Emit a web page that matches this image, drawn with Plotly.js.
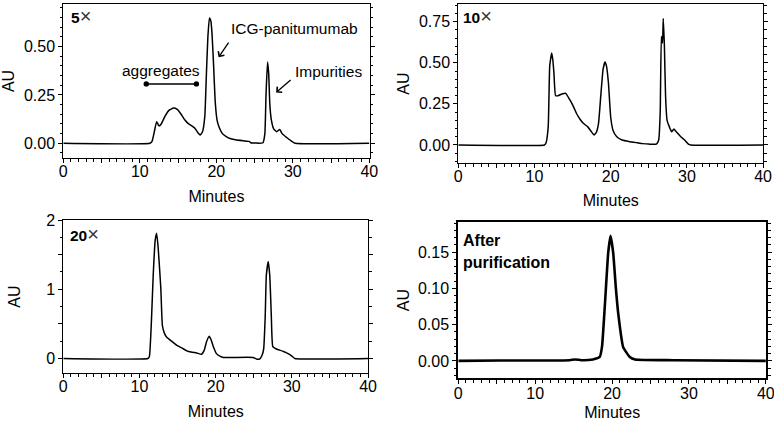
<!DOCTYPE html>
<html>
<head>
<meta charset="utf-8">
<script src="https://cdn.plot.ly/plotly-3.0.1.min.js"></script>
<style>html,body{margin:0;padding:0;background:#fff;}#chart{width:774px;height:421px;}</style>
</head>
<body>
<div id="chart"></div>
<script>
// ---- Data (minutes vs AU) ----
var x5 = [0, 11.3, 11.6, 11.9, 12.2, 12.5, 12.8, 13.3, 13.8, 14.4, 14.9, 15.4, 15.9, 16.3, 16.8, 17.2, 17.6, 17.9, 18.2, 18.5, 18.7, 18.9, 19.1, 19.3, 19.45, 19.65, 19.85, 20.1, 20.4, 20.8, 21.3, 21.7, 22.5, 23.5, 24.3, 24.5, 26.1, 26.35, 26.5, 26.7, 26.85, 27.0, 27.2, 27.5, 27.9, 28.3, 28.6, 29.2, 29.8, 30.3, 40];
var y5 = [0, 0, 0.01, 0.06, 0.112, 0.09, 0.10, 0.14, 0.17, 0.182, 0.175, 0.15, 0.12, 0.103, 0.09, 0.078, 0.055, 0.043, 0.06, 0.14, 0.35, 0.55, 0.647, 0.63, 0.56, 0.40, 0.22, 0.12, 0.08, 0.05, 0.035, 0.026, 0.018, 0.013, 0.01, 0.003, 0.003, 0.05, 0.25, 0.42, 0.36, 0.2, 0.12, 0.075, 0.06, 0.072, 0.05, 0.03, 0.012, 0, 0];

var x10 = [0, 11.3, 11.5, 11.8, 12.0, 12.25, 12.4, 12.55, 12.77, 13.1, 13.6, 14.1, 14.65, 15.1, 15.5, 16.0, 16.4, 17.0, 17.4, 17.8, 18.1, 18.4, 18.7, 19.0, 19.25, 19.45, 19.7, 20.0, 20.3, 20.8, 21.5, 22.5, 23.5, 24.2, 25.0, 26.0, 26.3, 26.5, 26.65, 26.8, 26.9, 27.05, 27.2, 27.4, 27.7, 28.0, 28.3, 28.7, 29.2, 29.7, 30.2, 30.5, 40];
var y10 = [0, 0, 0.01, 0.11, 0.48, 0.56, 0.52, 0.44, 0.30, 0.30, 0.31, 0.314, 0.274, 0.235, 0.193, 0.155, 0.132, 0.11, 0.085, 0.061, 0.075, 0.13, 0.30, 0.46, 0.505, 0.48, 0.38, 0.17, 0.09, 0.05, 0.03, 0.02, 0.013, 0.008, 0.005, 0.005, 0.03, 0.2, 0.66, 0.62, 0.77, 0.6, 0.3, 0.15, 0.11, 0.08, 0.097, 0.075, 0.05, 0.03, 0.005, 0, 0];

var x20 = [0, 11.1, 11.3, 11.55, 11.8, 12.05, 12.25, 12.45, 12.8, 13.0, 13.25, 13.55, 14.2, 14.9, 15.6, 16.2, 16.9, 17.5, 18.15, 18.5, 18.8, 19.15, 19.4, 19.7, 20.1, 20.6, 21.0, 22.3, 24.9, 25.4, 25.8, 26.1, 26.3, 26.5, 26.65, 26.9, 27.1, 27.3, 27.5, 27.9, 28.4, 28.9, 29.5, 30.0, 30.4, 40];
var y20 = [0, 0, 0.03, 0.5, 1.2, 1.7, 1.81, 1.6, 1.01, 0.48, 0.37, 0.31, 0.25, 0.19, 0.15, 0.11, 0.09, 0.08, 0.06, 0.12, 0.24, 0.32, 0.27, 0.17, 0.07, 0.03, 0.015, 0.015, 0.015, -0.01, -0.005, 0.05, 0.14, 0.6, 1.2, 1.40, 1.2, 0.63, 0.17, 0.14, 0.12, 0.1, 0.07, 0.035, 0, 0];

var xPur = [0, 5.5, 10, 14.5, 15.2, 16, 17.5, 18.4, 18.7, 19.08, 19.5, 19.8, 20.15, 20.5, 20.8, 21.45, 22.3, 23, 28, 40];
var yPur = [0, 0.0005, 0.0005, 0.001, 0.002, 0.001, 0.002, 0.0055, 0.02, 0.079, 0.149, 0.1725, 0.149, 0.1, 0.066, 0.019, 0.0055, 0.002, 0.001, 0];

// ---- Tick labels (labels hidden at the unlabeled major ticks) ----
var xHiddenTicks = ['5', '15', '25', '35'];
var y20HiddenTicks = ['0.5', '1.5'];

var FONT = 'Liberation Sans, Arial, Helvetica, sans-serif';
var TIMES = '<span style="font-size:20px;font-weight:normal;color:#333">\u00d7</span>';

function aliasOf(list) { var o = {}; list.forEach(function (k) { o[k] = ''; }); return o; }

function trace(x, y, xa, ya, w) {
  return {x: x, y: y, xaxis: xa, yaxis: ya, type: 'scatter', mode: 'lines',
          line: {color: '#000', width: w, shape: 'spline', smoothing: 0.4},
          hoverinfo: 'skip', showlegend: false};
}

var data = [
  trace(x5, y5, 'x', 'y', 1.5),
  trace(x10, y10, 'x2', 'y2', 1.5),
  trace(x20, y20, 'x3', 'y3', 1.5),
  trace(xPur, yPur, 'x4', 'y4', 2.6)
];

function xAxis(dom, anchor, lw, standoff) {
  return {domain: dom, anchor: anchor, range: [0, 40.03], showgrid: false, zeroline: false,
    showline: true, linecolor: '#000', linewidth: lw, mirror: true,
    ticks: 'outside', ticklen: 4, tickwidth: 1, tickcolor: '#000',
    tickmode: 'linear', tick0: 0, dtick: 5, labelalias: aliasOf(xHiddenTicks),
    ticklabelstandoff: -5, ticklabeloverflow: 'allow',
    minor: {tickmode: 'linear', tick0: 0, dtick: 1, ticks: 'outside', ticklen: 2.5, tickcolor: '#000', tickwidth: 1},
    tickfont: {family: FONT, size: 16, color: '#000'},
    title: {text: 'Minutes', font: {family: FONT, size: 16, color: '#000'}, standoff: standoff}};
}
function yAxis(dom, anchor, range, dtick, fmt, alias, minorD, standoff, lw) {
  return {domain: dom, anchor: anchor, range: range, showgrid: false, zeroline: false,
    showline: true, linecolor: '#000', linewidth: lw, mirror: 'ticks',
    ticks: 'outside', ticklen: 4, tickwidth: 1, tickcolor: '#000',
    tickmode: 'linear', tick0: 0, dtick: dtick, tickformat: fmt, labelalias: alias,
    ticklabeloverflow: 'allow',
    minor: {tickmode: 'linear', tick0: 0, dtick: minorD, ticks: 'outside', ticklen: 2.5, tickcolor: '#000', tickwidth: 1},
    tickfont: {family: FONT, size: 16, color: '#000'},
    title: {text: 'AU', font: {family: FONT, size: 16, color: '#000'}, standoff: standoff}};
}

var layout = {
  width: 774, height: 421,
  margin: {l: 0, r: 0, t: 0, b: 0},
  paper_bgcolor: '#fff', plot_bgcolor: '#fff',
  showlegend: false,
  xaxis:  xAxis([0.0818, 0.4774], 'y', 1, 11),
  yaxis:  yAxis([0.6247, 0.9905], 'x', [-0.076, 0.72], 0.25, '.2f', {}, 0.05, 15, 1),
  xaxis2: xAxis([0.5921, 0.9862], 'y2', 1, 10),
  yaxis2: yAxis([0.6128, 0.9905], 'x2', [-0.11, 0.858], 0.25, '.2f', {}, 0.05, 5, 1),
  xaxis3: xAxis([0.0818, 0.4758], 'y3', 1, 11),
  yaxis3: yAxis([0.114, 0.4774], 'x3', [-0.21, 2.0], 0.5, '', aliasOf(y20HiddenTicks), 0.25, 21, 1),
  xaxis4: xAxis([0.5921, 0.9897], 'y4', 2, 9),
  yaxis4: yAxis([0.1014, 0.4734], 'x4', [-0.024, 0.192], 0.05, '.2f', {}, 0.01, 4, 2),
  annotations: [
    {xref: 'paper', yref: 'paper', x: 69/774, y: 1 - 16/421, xanchor: 'left', yanchor: 'middle',
     text: '<b>5</b>' + TIMES, showarrow: false, font: {family: FONT, size: 15.5, color: '#000'}},
    {xref: 'paper', yref: 'paper', x: 461/774, y: 1 - 16/421, xanchor: 'left', yanchor: 'middle',
     text: '<b>10</b>' + TIMES, showarrow: false, font: {family: FONT, size: 15.5, color: '#000'}},
    {xref: 'paper', yref: 'paper', x: 68/774, y: 1 - 234/421, xanchor: 'left', yanchor: 'middle',
     text: '<b>20</b>' + TIMES, showarrow: false, font: {family: FONT, size: 15.5, color: '#000'}},
    {xref: 'paper', yref: 'paper', x: 461/774, y: 1 - 240/421, xanchor: 'left', yanchor: 'middle',
     text: '<b>After</b>', showarrow: false, font: {family: FONT, size: 16, color: '#000'}},
    {xref: 'paper', yref: 'paper', x: 461/774, y: 1 - 262/421, xanchor: 'left', yanchor: 'middle',
     text: '<b>purification</b>', showarrow: false, font: {family: FONT, size: 16, color: '#000'}},
    // panel 1 labels
    {xref: 'x', yref: 'y', x: 12.83, y: 0.375, text: 'aggregates', showarrow: false,
     font: {family: FONT, size: 15.5, color: '#000'}},
    {xref: 'x', yref: 'y', x: 17.4, y: 0.307, ax: 10.65, ay: 0.307, axref: 'x', ayref: 'y',
     text: '', showarrow: true, arrowside: 'end+start', arrowhead: 6, startarrowhead: 6,
     arrowsize: 0.9, startarrowsize: 0.9, arrowwidth: 1.5, arrowcolor: '#000'},
    {xref: 'x', yref: 'y', x: 30.2, y: 0.595, text: 'ICG-panitumumab', showarrow: false,
     font: {family: FONT, size: 15.5, color: '#000'}},
    {xref: 'x', yref: 'y', x: 20.3, y: 0.445, ax: 11, ay: -16, text: '', showarrow: true,
     arrowhead: 4, arrowsize: 1.1, arrowwidth: 1.3, arrowcolor: '#000'},
    {xref: 'x', yref: 'y', x: 34.67, y: 0.37, text: 'Impurities', showarrow: false,
     font: {family: FONT, size: 15.5, color: '#000'}},
    {xref: 'x', yref: 'y', x: 27.82, y: 0.262, ax: 16, ay: -14, text: '', showarrow: true,
     arrowhead: 4, arrowsize: 1.1, arrowwidth: 1.3, arrowcolor: '#000'}
  ]
};

Plotly.newPlot('chart', data, layout, {staticPlot: true, displayModeBar: false});
</script>
</body>
</html>
